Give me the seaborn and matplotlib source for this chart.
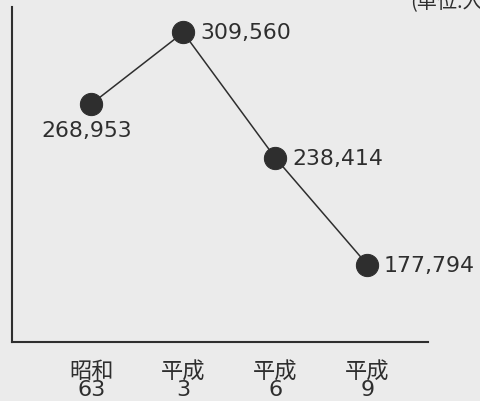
import numpy as np
import pandas as pd
import matplotlib
matplotlib.use("Agg")
import matplotlib.pyplot as plt
import seaborn as sns

years = ["昭和\n63", "平成\n3", "平成\n6", "平成\n9"]
values = [268953, 309560, 238414, 177794]
label_pos = ["below", "right", "right", "right"]

df = pd.DataFrame({"x": np.arange(len(years)), "value": values})

sns.set_style("white")
plt.rcParams['font.family'] = ['DejaVu Sans', 'Noto Sans CJK JP']

bg = "#ebebeb"
ink = "#2e2e2e"

fig = plt.figure(figsize=(4.8, 4.02), dpi=100, facecolor=bg)
ax = fig.add_axes([0.025, 0.147, 0.867, 0.833])
ax.set_facecolor(bg)

# line with big dots
sns.lineplot(data=df, x="x", y="value", ax=ax, color=ink, linewidth=1.1,
             marker="o", markersize=16, markeredgecolor=ink, markerfacecolor=ink)

# value labels
for i, (v, pos) in enumerate(zip(values, label_pos)):
    txt = f"{v:,}"
    if pos == "below":
        ax.annotate(txt, (i, v), xytext=(-3, -19), textcoords="offset points",
                    ha="center", va="center", fontsize=15.8, color=ink)
    else:
        ax.annotate(txt, (i, v), xytext=(12, 0), textcoords="offset points",
                    ha="left", va="center", fontsize=15.8, color=ink)

ax.set_xlim(-0.86, 3.66)
ax.set_ylim(134000, 324000)
ax.set_xticks(df["x"])
ax.set_xticklabels(years, fontsize=16, color=ink, linespacing=0.84)
ax.set_yticks([])
ax.set_xlabel("")
ax.set_ylabel("")
ax.tick_params(axis="x", direction="out", length=8.5, width=1.5, color=ink, pad=5)

for side in ["top", "right"]:
    ax.spines[side].set_visible(False)
for side in ["left", "bottom"]:
    ax.spines[side].set_color(ink)
    ax.spines[side].set_linewidth(1.5)

# unit note, cut off at the top right like the original
fig.text(0.854, 0.993, "(単位:人)", fontsize=14.5, color=ink, ha="left", va="center",
         family=['Noto Sans CJK JP'])

fig.savefig("out.png", dpi=100, facecolor=bg)
